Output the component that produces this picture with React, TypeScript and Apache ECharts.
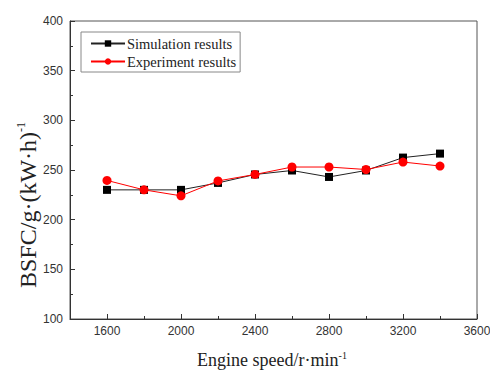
import React, { useEffect, useRef } from "react";
import * as echarts from "echarts";

// Engine speed (r/min) and BSFC values g/(kW·h)
const speeds = [1600, 1800, 2000, 2200, 2400, 2600, 2800, 3000, 3200, 3400];
const simulation = [230, 230, 230, 237, 245.5, 249.5, 243, 249.5, 262.5, 266.5];
const experiment = [239.5, 230, 224, 239, 245.5, 253, 253, 250.5, 258, 254];
const xMajorTicks = [1600, 2000, 2400, 2800, 3200, 3600];

const serif = "'Liberation Serif', 'Times New Roman', serif";
const sans = "'Liberation Sans', Arial, sans-serif";

export default function App() {
  const ref = useRef<HTMLDivElement>(null);

  useEffect(() => {
    if (!ref.current) return;
    const chart = echarts.init(ref.current, undefined, { renderer: "svg" });
    const pairs = (ys: number[]) => speeds.map((x, i) => [x, ys[i]]);

    chart.setOption({
      animation: false,
      backgroundColor: "#fff",
      grid: {
        left: 70,
        right: 13,
        top: 21,
        bottom: 53,
        outerBoundsMode: "none",
        show: true,
        borderColor: "#555",
        borderWidth: 1,
      },
      graphic: [
        {
          type: "text",
          x: 28,
          y: 205,
          rotation: Math.PI / 2,
          style: {
            text: "{a|BSFC/g·(kW·h)}{sup|-1}",
            align: "center",
            verticalAlign: "middle",
            fill: "#222",
            rich: {
              a: { fontFamily: serif, fontSize: 24, fill: "#222" },
              sup: { fontFamily: serif, fontSize: 12, fill: "#222", verticalAlign: "top", padding: [0, 0, 14, 0] },
            },
          },
        },
        {
          type: "text",
          x: 272,
          y: 360,
          style: {
            text: "{a|Engine speed/r·min}{sup|-1}",
            align: "center",
            verticalAlign: "middle",
            fill: "#222",
            rich: {
              a: { fontFamily: serif, fontSize: 18, fill: "#222" },
              sup: { fontFamily: serif, fontSize: 10, fill: "#222", verticalAlign: "top", padding: [0, 0, 10, 0] },
            },
          },
        },
      ],
      legend: {
        orient: "vertical",
        left: 81,
        top: 32,
        padding: [4, 4, 3, 9],
        itemGap: 3,
        itemWidth: 34,
        itemHeight: 8,
        borderColor: "#888",
        borderWidth: 1,
        borderRadius: 0,
        textStyle: { fontFamily: serif, fontSize: 14.5, color: "#222", padding: [0, 0, 0, -3] },
        data: ["Simulation results", "Experiment results"],
      },
      xAxis: [
        {
          type: "value",
          min: 1400,
          max: 3600,
          axisLine: { lineStyle: { color: "#333", width: 1 } },
          axisTick: { inside: true, length: 5, customValues: xMajorTicks, lineStyle: { color: "#333" } },
          axisLabel: {
            customValues: xMajorTicks,
            formatter: (v: number) => String(v),
            fontFamily: sans,
            fontSize: 12,
            color: "#333",
            margin: 6,
          },
          splitLine: { show: false },
        },
        {
          type: "value",
          position: "bottom",
          min: 1400,
          max: 3600,
          interval: 200,
          axisLine: { show: false },
          axisTick: { inside: true, length: 3, lineStyle: { color: "#333" } },
          axisLabel: { show: false },
          splitLine: { show: false },
        },
      ],
      yAxis: {
        type: "value",
        min: 100,
        max: 400,
        interval: 50,
        axisLine: { show: true, lineStyle: { color: "#333", width: 1 } },
        axisTick: { inside: true, length: 5, lineStyle: { color: "#333" } },
        minorTick: { show: true, splitNumber: 2, length: 3, lineStyle: { color: "#333" } },
        axisLabel: { fontFamily: sans, fontSize: 12, color: "#333", margin: 7 },
        splitLine: { show: false },
      },
      series: [
        {
          name: "Simulation results",
          type: "line",
          data: pairs(simulation),
          symbol: "rect",
          symbolSize: 8,
          itemStyle: { color: "#000" },
          lineStyle: { color: "#222", width: 1 },
        },
        {
          name: "Experiment results",
          type: "line",
          data: pairs(experiment),
          symbol: "circle",
          symbolSize: 9,
          itemStyle: { color: "#ff0000" },
          lineStyle: { color: "#ff0000", width: 1 },
        },
      ],
    });

    return () => chart.dispose();
  }, []);

  return (
    <div
      ref={ref}
      style={{ position: "fixed", left: 0, top: 0, width: 490, height: 372, overflow: "hidden" }}
    />
  );
}
